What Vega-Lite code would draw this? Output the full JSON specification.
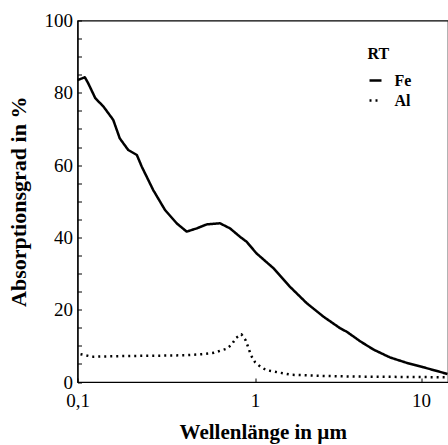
{
  "$schema": "https://vega.github.io/schema/vega-lite/v6.json",
  "width": 370.5,
  "height": 361.5,
  "padding": {"left": 77.5, "top": 20.5, "right": 0, "bottom": 63},
  "autosize": {"type": "none"},
  "background": "white",
  "config": {
    "font": "Liberation Serif",
    "view": {"stroke": "black", "strokeWidth": 1.2},
    "axis": {
      "domainColor": "black",
      "domainWidth": 1.2,
      "tickColor": "black",
      "tickWidth": 1,
      "grid": false,
      "labelFont": "Liberation Serif",
      "labelColor": "black",
      "titleFont": "Liberation Serif",
      "titleColor": "black",
      "titleFontWeight": "bold"
    },
    "legend": {
      "titleFont": "Liberation Serif",
      "labelFont": "Liberation Serif"
    }
  },
  "data": {
    "values": [
      {"Metall": "Fe", "wl": 0.1, "abs": 83.5},
      {"Metall": "Fe", "wl": 0.110, "abs": 84.3},
      {"Metall": "Fe", "wl": 0.115, "abs": 82.6},
      {"Metall": "Fe", "wl": 0.126, "abs": 78.5},
      {"Metall": "Fe", "wl": 0.140, "abs": 76.2},
      {"Metall": "Fe", "wl": 0.159, "abs": 72.5},
      {"Metall": "Fe", "wl": 0.173, "abs": 67.4},
      {"Metall": "Fe", "wl": 0.193, "abs": 64.2},
      {"Metall": "Fe", "wl": 0.216, "abs": 62.8},
      {"Metall": "Fe", "wl": 0.230, "abs": 59.6},
      {"Metall": "Fe", "wl": 0.267, "abs": 53.1},
      {"Metall": "Fe", "wl": 0.311, "abs": 47.6},
      {"Metall": "Fe", "wl": 0.362, "abs": 43.9},
      {"Metall": "Fe", "wl": 0.412, "abs": 41.6},
      {"Metall": "Fe", "wl": 0.470, "abs": 42.5},
      {"Metall": "Fe", "wl": 0.535, "abs": 43.6},
      {"Metall": "Fe", "wl": 0.635, "abs": 43.9},
      {"Metall": "Fe", "wl": 0.723, "abs": 42.5},
      {"Metall": "Fe", "wl": 0.822, "abs": 40.2},
      {"Metall": "Fe", "wl": 0.897, "abs": 38.8},
      {"Metall": "Fe", "wl": 1.02, "abs": 35.6},
      {"Metall": "Fe", "wl": 1.29, "abs": 31.5},
      {"Metall": "Fe", "wl": 1.62, "abs": 26.4},
      {"Metall": "Fe", "wl": 2.05, "abs": 21.8},
      {"Metall": "Fe", "wl": 2.58, "abs": 18.1},
      {"Metall": "Fe", "wl": 3.25, "abs": 14.9},
      {"Metall": "Fe", "wl": 3.57, "abs": 13.9},
      {"Metall": "Fe", "wl": 4.0, "abs": 12.3},
      {"Metall": "Fe", "wl": 4.29, "abs": 11.3},
      {"Metall": "Fe", "wl": 5.16, "abs": 9.0},
      {"Metall": "Fe", "wl": 6.5, "abs": 6.8},
      {"Metall": "Fe", "wl": 8.2, "abs": 5.3},
      {"Metall": "Fe", "wl": 10.3, "abs": 4.1},
      {"Metall": "Fe", "wl": 13.0, "abs": 2.8},
      {"Metall": "Fe", "wl": 14.4, "abs": 2.2},
      {"Metall": "Al", "wl": 0.104, "abs": 7.7},
      {"Metall": "Al", "wl": 0.121, "abs": 7.0},
      {"Metall": "Al", "wl": 0.15, "abs": 7.1},
      {"Metall": "Al", "wl": 0.2, "abs": 7.2},
      {"Metall": "Al", "wl": 0.3, "abs": 7.3},
      {"Metall": "Al", "wl": 0.4, "abs": 7.4},
      {"Metall": "Al", "wl": 0.501, "abs": 7.7},
      {"Metall": "Al", "wl": 0.588, "abs": 8.1},
      {"Metall": "Al", "wl": 0.641, "abs": 8.7},
      {"Metall": "Al", "wl": 0.693, "abs": 9.2},
      {"Metall": "Al", "wl": 0.740, "abs": 10.4},
      {"Metall": "Al", "wl": 0.782, "abs": 12.2},
      {"Metall": "Al", "wl": 0.838, "abs": 13.2},
      {"Metall": "Al", "wl": 0.887, "abs": 11.5},
      {"Metall": "Al", "wl": 0.917, "abs": 9.5},
      {"Metall": "Al", "wl": 0.949, "abs": 7.4},
      {"Metall": "Al", "wl": 1.0, "abs": 5.5},
      {"Metall": "Al", "wl": 1.08, "abs": 4.2},
      {"Metall": "Al", "wl": 1.17, "abs": 3.3},
      {"Metall": "Al", "wl": 1.40, "abs": 2.6},
      {"Metall": "Al", "wl": 1.66, "abs": 2.0},
      {"Metall": "Al", "wl": 2.5, "abs": 1.7},
      {"Metall": "Al", "wl": 4.0, "abs": 1.5},
      {"Metall": "Al", "wl": 8.0, "abs": 1.4},
      {"Metall": "Al", "wl": 14.4, "abs": 1.3}
    ]
  },
  "mark": {"type": "line", "color": "black", "strokeWidth": 2.5, "strokeJoin": "round"},
  "encoding": {
    "x": {
      "field": "wl",
      "type": "quantitative",
      "scale": {"type": "log", "domain": [0.1, 1, 10, 14.5], "range": [0, 177.5, 343.5, 370.5]},
      "axis": {
        "title": "Wellenlänge in µm",
        "titleFontSize": 21,
        "titlePadding": 11,
        "values": [0.1, 1, 10],
        "labelExpr": "replace('' + datum.value, '.', ',')",
        "labelFontSize": 19,
        "labelPadding": 13,
        "tickSize": -4,
        "labelFlush": false
      }
    },
    "y": {
      "field": "abs",
      "type": "quantitative",
      "scale": {"domain": [0, 100], "nice": false},
      "axis": {
        "title": "Absorptionsgrad in %",
        "titleFontSize": 22,
        "titlePadding": 14,
        "values": [0, 5, 10, 15, 20, 25, 30, 35, 40, 45, 50, 55, 60, 65, 70, 75, 80, 85, 90, 95, 100],
        "labelExpr": "datum.value % 20 == 0 ? datum.label : ''",
        "labelFontSize": 19,
        "labelPadding": 9,
        "tickSize": -4
      }
    },
    "strokeDash": {
      "field": "Metall",
      "type": "nominal",
      "scale": {"domain": ["Fe", "Al"], "range": [[1, 0], [2, 4]]},
      "legend": {
        "title": "RT",
        "orient": "none",
        "legendX": 290,
        "legendY": 25,
        "padding": 0,
        "titleFontSize": 16,
        "titleFontWeight": "bold",
        "titleColor": "black",
        "titlePadding": 11,
        "labelFontSize": 16,
        "labelFontWeight": "bold",
        "labelColor": "black",
        "labelOffset": 11,
        "rowPadding": 4,
        "symbolType": "stroke",
        "symbolSize": 144,
        "symbolStrokeWidth": 2.5,
        "symbolStrokeColor": "black"
      }
    }
  }
}
